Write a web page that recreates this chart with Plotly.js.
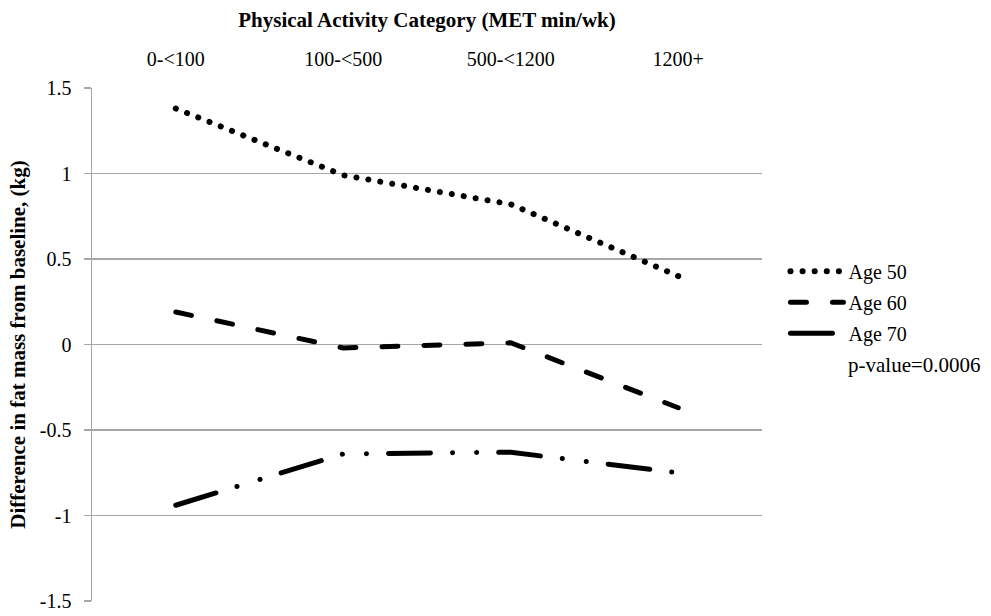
<!DOCTYPE html>
<html>
<head>
<meta charset="utf-8">
<script src="https://cdn.plot.ly/plotly-3.0.1.min.js"></script>
<style>
  html, body { margin: 0; padding: 0; background: #fff; }
  #chart { width: 991px; height: 616px; }
  .scatterlayer path.js-line, .legend path.js-line { stroke-linecap: round; }
</style>
</head>
<body>
<div id="chart"></div>
<script>
const categories = ["0-<100", "100-<500", "500-<1200", "1200+"];
const age50 = [1.38, 0.99, 0.82, 0.40];
const age60 = [0.19, -0.02, 0.01, -0.37];
const age70 = [-0.94, -0.64, -0.63, -0.75];
const yTickVals = [1.5, 1, 0.5, 0, -0.5, -1, -1.5];
const yTickText = ["1.5", "1", "0.5", "0", "-0.5", "-1", "-1.5"];
const pValueText = "p-value=0.0006";

const font = "'Liberation Serif', 'DejaVu Serif', serif";

const traces = [
  { x: categories, y: age50, name: "Age 50", mode: "lines", legendgroup: "a",
    line: { color: "#000", width: 6, dash: "0.1px,12px" } },
  { x: categories, y: age60, name: "Age 60", mode: "lines", legendgroup: "b",
    line: { color: "#000", width: 5, dash: "16px,26px" } },
  { x: categories, y: age70, name: "Age 70", mode: "lines", legendgroup: "c",
    line: { color: "#000", width: 5, dash: "42px,22px,0.1px,24px,0.1px,22px" } }
];

const layout = {
  width: 991, height: 616,
  margin: { l: 92, r: 229, t: 88, b: 15 },
  paper_bgcolor: "#fff", plot_bgcolor: "#fff",
  font: { family: font, size: 20, color: "#000" },
  showlegend: true,
  legend: { x: 1.035, y: 0.681, xanchor: "left", yanchor: "top",
    font: { family: font, size: 20, color: "#000" }, tracegroupgap: 2, itemwidth: 53,
    bgcolor: "rgba(0,0,0,0)" },
  xaxis: {
    type: "category", side: "top", range: [-0.5, 3.5],
    showgrid: false, showline: false, zeroline: false, ticks: "",
    ticklabelstandoff: 17,
    tickfont: { family: font, size: 20 },
    title: { text: "<b>Physical Activity Category (MET min/wk)</b>",
      font: { family: font, size: 21 }, standoff: 14 }
  },
  yaxis: {
    range: [-1.5, 1.5], tickvals: yTickVals, ticktext: yTickText,
    showgrid: true, gridcolor: "#a6a6a6", gridwidth: 1.5,
    zeroline: true, zerolinecolor: "#a6a6a6", zerolinewidth: 1.5,
    showline: true, linecolor: "#a6a6a6", linewidth: 1.5,
    ticks: "outside", ticklen: 7, tickcolor: "#a6a6a6", tickwidth: 1.5,
    ticklabelstandoff: 8,
    tickfont: { family: font, size: 20 },
    title: { text: "<b>Difference in fat mass from baseline, (kg)</b>",
      font: { family: font, size: 21 }, standoff: 8 }
  },
  annotations: [
    { xref: "paper", yref: "paper", x: 1.125, y: 0.46, xanchor: "left", yanchor: "middle",
      text: pValueText, showarrow: false, font: { family: font, size: 21, color: "#000" } }
  ]
};

Plotly.newPlot("chart", traces, layout, { displayModeBar: false, staticPlot: true });
</script>
</body>
</html>
